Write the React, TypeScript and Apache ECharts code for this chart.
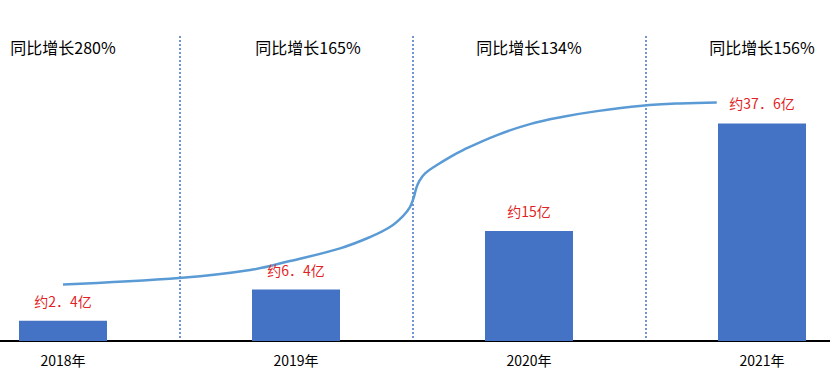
import React, { useEffect, useRef } from "react";
import * as echarts from "echarts";

// Categories (bottom axis) and year-on-year growth labels (top)
const categories = ["2018年", "2019年", "2020年", "2021年"];
const growthLabels = ["同比增长280%", "同比增长165%", "同比增长134%", "同比增长156%"];

// Bar heights as drawn in the picture (units of the hidden value axis)
const barHeights = [3.5, 8.9, 19, 37.6];
// Approximate values shown as labels (亿)
const approxValues = [2.4, 6.4, 15, 37.6];

// Trend curve (x in category units, y in bar units)
const curveX = [0.0, 0.511, 0.803, 0.974, 1.189, 1.318, 1.403, 1.459, 1.489, 1.506, 1.515, 1.528, 1.554, 1.605, 1.661, 1.717, 1.863, 2.004, 2.146, 2.292, 2.485, 2.648, 2.806];
const curveY = [9.76, 10.93, 12.26, 13.82, 16.01, 17.96, 19.69, 21.59, 23.14, 24.87, 26.25, 27.55, 28.96, 30.4, 31.78, 32.99, 35.58, 37.48, 38.74, 39.72, 40.64, 41.05, 41.23];

const FONT = "'Noto Sans CJK SC', 'Noto Sans', sans-serif";

export default function App() {
  const ref = useRef<HTMLDivElement>(null);

  useEffect(() => {
    document.body.style.margin = "0";
    if (!ref.current) return;
    const chart = echarts.init(ref.current, undefined, { renderer: "svg" });
    const curveData = curveX.map((x, i) => [x, curveY[i]]);
    chart.setOption({
      animation: false,
      backgroundColor: "#ffffff",
      grid: {
        left: -53.5,
        right: -48.5,
        top: 36,
        bottom: 37,
        containLabel: false,
        outerBoundsMode: "none",
      },
      xAxis: [
        {
          type: "category",
          data: categories,
          boundaryGap: true,
          axisLine: { show: true, lineStyle: { color: "#000000", width: 2 } },
          axisTick: { show: false },
          axisLabel: { color: "#000000", fontSize: 14, fontFamily: FONT, margin: 12 },
          splitLine: { show: true, lineStyle: { color: "#4472C4", width: 1.5, type: [2, 2] } },
        },
        {
          type: "value",
          min: -0.5,
          max: 3.5,
          show: false,
        },
        {
          type: "category",
          position: "top",
          data: growthLabels.map((g, i) =>
            i === 1
              ? { value: g, textStyle: { padding: [0, 0, 0, 24], verticalAlign: "middle" } }
              : g
          ),
          boundaryGap: true,
          axisLine: { show: false },
          axisTick: { show: false },
          splitLine: { show: false },
          axisLabel: {
            inside: true,
            margin: 11,
            verticalAlign: "middle",
            color: "#000000",
            fontSize: 16,
            fontFamily: FONT,
          },
        },
      ],
      yAxis: [{ type: "value", min: 0, max: 52.7, show: false }],
      series: [
        {
          type: "line",
          xAxisIndex: 1,
          yAxisIndex: 0,
          data: curveData,
          smooth: 0.4,
          showSymbol: false,
          symbol: "none",
          lineStyle: { color: "#5B9BD5", width: 2.5 },
          z: 1,
        },
        {
          type: "bar",
          xAxisIndex: 0,
          yAxisIndex: 0,
          data: barHeights,
          barWidth: 88,
          itemStyle: { color: "#4472C4" },
          label: {
            show: true,
            position: "top",
            distance: 13,
            color: "#E21F26",
            fontSize: 14,
            fontFamily: FONT,
            formatter: (p: any) => "约" + String(approxValues[p.dataIndex]).replace(".", "．") + "亿",
          },
          z: 2,
        },
      ],
    });
    return () => chart.dispose();
  }, []);

  return <div ref={ref} style={{ width: 830, height: 378 }} />;
}
